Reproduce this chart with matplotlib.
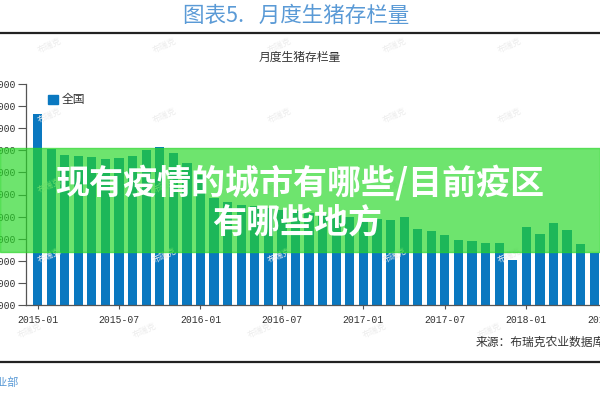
import matplotlib
matplotlib.use("Agg")
import matplotlib.pyplot as plt
from matplotlib.patches import Rectangle
from matplotlib.lines import Line2D

plt.rcParams['font.family'] = ['Noto Sans CJK SC', 'DejaVu Sans']

# monthly pig inventory, 2015-01 .. 2018-06
months = ['2015-01', '2015-02', '2015-03', '2015-04', '2015-05', '2015-06',
          '2015-07', '2015-08', '2015-09', '2015-10', '2015-11', '2015-12',
          '2016-01', '2016-02', '2016-03', '2016-04', '2016-05', '2016-06',
          '2016-07', '2016-08', '2016-09', '2016-10', '2016-11', '2016-12',
          '2017-01', '2017-02', '2017-03', '2017-04', '2017-05', '2017-06',
          '2017-07', '2017-08', '2017-09', '2017-10', '2017-11', '2017-12',
          '2018-01', '2018-02', '2018-03', '2018-04', '2018-05', '2018-06']
stock = [38640, 37045, 36787, 36720, 36697, 36584,
         36629, 36742, 36991, 37127, 36878, 36439,
         35880, 34840, 34660, 34525, 34480, 34390,
         34300, 34250, 34165, 34120, 34070, 33980,
         33940, 33890, 33846, 33995, 33439, 33371,
         33145, 32941, 32896, 32819, 32792, 32036,
         33516, 33199, 33697, 33394, 32747, 32339]
tick_labels = ['2015-01', '2015-07', '2016-01', '2016-07',
               '2017-01', '2017-07', '2018-01', '2018-07']
y_ticks = [30000, 31000, 32000, 33000, 34000, 35000,
           36000, 37000, 38000, 39000, 40000]

W, H = 600, 400


def fx(x):
    return x / W


def fy(y):
    return 1 - y / H


fig = plt.figure(figsize=(6, 4), dpi=100)
fig.patch.set_facecolor('white')

# chart area: y spine at x=26, bottom at y=305, top tick at y=84
ax = fig.add_axes([fx(26), fy(305), fx(620) - fx(26), fy(84) - fy(305)])
x = list(range(len(months)))
ax.bar(x, stock, width=0.68, color='#0a78c0', zorder=2)
ax.set_xlim(-0.85, 42.9)
ax.set_ylim(30000, 40000)
ax.set_yticks(y_ticks)
ax.set_yticklabels([str(v) for v in y_ticks], family='Liberation Mono',
                   fontsize=7, color='#333333')
ax.set_xticks([months.index(m) if m in months else 42 for m in tick_labels])
ax.set_xticklabels(tick_labels, family='Liberation Mono', fontsize=7,
                   color='#333333')
ax.tick_params(axis='y', length=6, width=0.8, pad=1, colors='#555555',
               labelcolor='#333333')
ax.tick_params(axis='x', length=3, width=0.8, pad=4, colors='#555555',
               labelcolor='#333333')
for s in ['top', 'right']:
    ax.spines[s].set_visible(False)
for s in ['left', 'bottom']:
    ax.spines[s].set_color('#555555')
    ax.spines[s].set_linewidth(0.9)
ax.patch.set_alpha(0)

# faint watermarks
for wy in [45, 115, 185, 255, 330]:
    for wx in [30, 145, 260, 375, 490]:
        fig.text(fx(wx + (wy % 2) * 20), fy(wy), '布瑞克', fontsize=6,
                 color='#ececec', rotation=25, ha='center', va='center',
                 zorder=0.5)

# header
fig.text(fx(183), fy(16), '图表5.   月度生猪存栏量', fontsize=15.5,
         color='#5a9ad6', ha='left', va='center')
fig.add_artist(Line2D([0, 1], [fy(33), fy(33)], color='#222222', lw=1.6))

fig.text(fx(300), fy(57), '月度生猪存栏量', fontsize=8.5, color='#333333',
         ha='center', va='center')

# legend
fig.patches.append(Rectangle((fx(48), fy(104)), fx(10), fy(95) - fy(104),
                             transform=fig.transFigure, color='#0a78c0',
                             figure=fig))
fig.text(fx(62), fy(99), '全国', fontsize=8.5, color='#333333',
         ha='left', va='center')

# footer
fig.text(fx(476), fy(342), '来源：布瑞克农业数据库', fontsize=8.5,
         color='#333333', ha='left', va='center')
fig.add_artist(Line2D([0, 1], [fy(362), fy(362)], color='#222222', lw=1.6))
fig.text(fx(19), fy(383), '农业部', fontsize=8, color='#5a9ad6',
         ha='right', va='center')

# green banner with title
fig.patches.append(Rectangle((0, fy(252)), 1, fy(148) - fy(252),
                             transform=fig.transFigure, color='#27d727',
                             alpha=0.67, figure=fig, zorder=3))
fig.text(0.5, fy(183), '现有疫情的城市有哪些/目前疫区', fontsize=24.5,
         fontweight='heavy', color='white', ha='center', va='center',
         zorder=4)
fig.text(fx(297), fy(222), '有哪些地方', fontsize=24.5, fontweight='heavy',
         color='white', ha='center', va='center', zorder=4)

fig.savefig('out.png', dpi=100)
